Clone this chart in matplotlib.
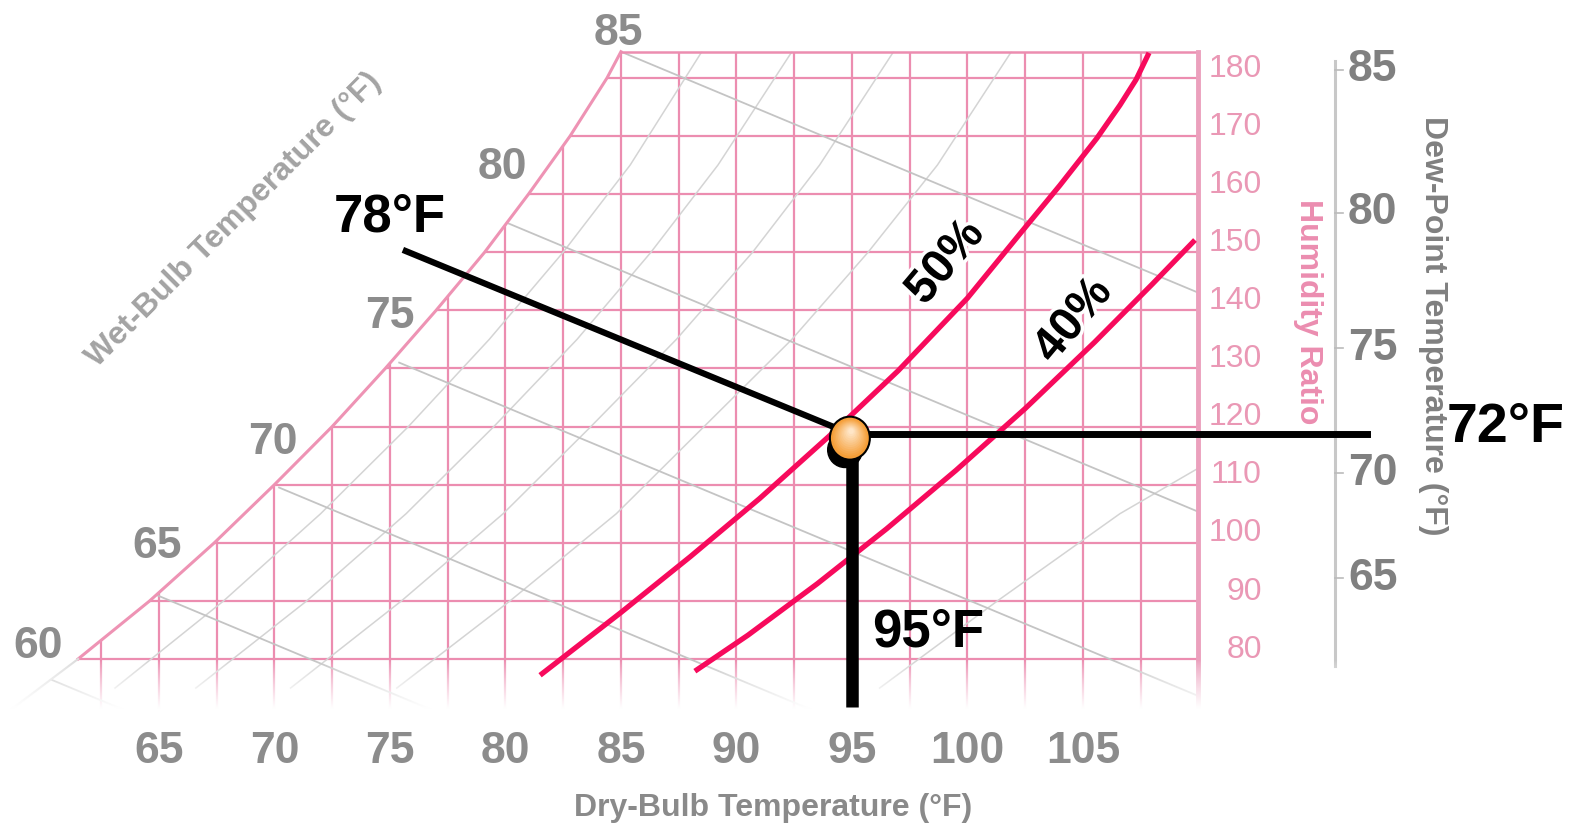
import numpy as np
import matplotlib.pyplot as plt
from matplotlib.patches import Polygon, Ellipse
import matplotlib.patheffects as pe

plt.rcParams['font.family'] = ['Liberation Sans', 'DejaVu Sans']

# --- chart scales (dry-bulb in F, humidity ratio in grains/lb) ---
db_ticks = [65, 70, 75, 80, 85, 90, 95, 100, 105]
db_grid = [62.5, 65, 67.5, 70, 72.5, 75, 77.5, 80, 82.5, 85, 87.5, 90,
           92.5, 95, 97.5, 100, 102.5, 105, 107.5]
hr_ticks = [80, 90, 100, 110, 120, 130, 140, 150, 160, 170, 180]
hr_top = 184.5
db_right = 110

# saturation curve
sat_db = [58.5, 59.5, 60.5, 61.5, 64.6, 67.4, 70.0, 72.5, 74.8, 77.0, 79.1, 81.0, 82.8, 84.4, 85.0]
sat_hr = [71, 74, 77, 80, 90, 100, 110, 120, 130, 140, 150, 160, 170, 180, 184.5]

# wet-bulb scale
wb_labels = [60, 65, 70, 75, 80, 85]
wb_label_db = [59.76, 64.91, 69.94, 75.0, 79.85, 84.9]
wb_label_hr = [82.2, 99.3, 117.2, 138.9, 164.5, 187.6]
wb_start_db = [60.0, 64.9, 70.2, 75.4, 80.1, 85.0]
wb_start_hr = [77.0, 91.0, 109.5, 131.0, 155.0, 184.5]
wb_end_db = [74.0, 79.0, 94.0, 112.0, 112.0, 112.0]
wb_end_hr = [53.8, 67.6, 70.0, 70.3, 102.0, 139.7]

# dew-point scale
dp_labels = [85, 80, 75, 70, 65]
dp_hr = [181.4, 156.8, 133.5, 112.0, 93.9]

# faint relative humidity curves
rh_grey_hr = [75, 90, 105, 120, 135, 150, 165, 184.5]
rh90_db = [63.1, 67.8, 72.0, 75.8, 79.3, 82.5, 85.4, 88.5]
rh80_db = [66.6, 71.4, 75.7, 79.5, 83.1, 86.3, 89.2, 92.4]
rh70_db = [70.7, 75.5, 79.9, 83.7, 87.4, 90.7, 93.6, 96.8]
rh60_db = [75.3, 80.2, 84.8, 88.6, 92.4, 95.7, 98.7, 101.9]
rh30_db = [96.2, 101.3, 106.6, 110.5]
rh30_hr = [75, 90, 105, 114]

# highlighted 50% and 40% curves
rh50_db = [81.5, 85.0, 88.0, 91.0, 94.0, 97.0, 100.0, 102.3, 104.0, 105.6, 106.6, 107.3, 107.86]
rh50_hr = [77.2, 88.0, 97.6, 107.6, 118.3, 129.6, 142.1, 153.3, 161.5, 169.6, 175.3, 179.7, 184.3]
rh40_db = [88.2, 90.5, 93.5, 96.5, 99.5, 102.5, 105.5, 108.0, 109.85]
rh40_hr = [77.9, 84.1, 92.95, 102.4, 112.45, 123.1, 134.5, 144.5, 152.1]

# state point: 95F dry bulb, 78F wet bulb, 72F dew point
state_db, state_hr = 94.91, 118.0
dew_hr = 118.8
wb78_db = [75.56, 94.9]
wb78_hr = [150.4, 118.8]

pink = '#ec8db0'
grey_txt = '#8c8c8c'

fig = plt.figure(figsize=(15.87, 8.25), dpi=100)
ax = fig.add_axes([0, 0, 1, 1])
ax.set_axis_off()

# clip region right of the saturation curve
verts = list(zip(sat_db, sat_hr)) + [(db_right, hr_top), (db_right, 68), (sat_db[0], 68)]
clip = Polygon(verts, closed=True, facecolor='none', edgecolor='none')
ax.add_patch(clip)

v = ax.vlines(db_grid, 68, hr_top, color=pink, lw=1.6, zorder=1)
h = ax.hlines(hr_ticks, 55, db_right, color=pink, lw=1.6, zorder=1)
v.set_clip_path(clip)
h.set_clip_path(clip)

for rdb in [rh90_db, rh80_db, rh70_db, rh60_db]:
    l, = ax.plot(rdb, rh_grey_hr, color='#d4d4d4', lw=1.1, zorder=2)
    l.set_clip_path(clip)
l, = ax.plot(rh30_db, rh30_hr, color='#d4d4d4', lw=1.1, zorder=2)
l.set_clip_path(clip)

for i in range(len(wb_labels)):
    l, = ax.plot([wb_start_db[i], wb_end_db[i]], [wb_start_hr[i], wb_end_hr[i]],
                 color='#c4c4c4', lw=1.3, zorder=2)
    l.set_clip_path(clip)

# saturation line, borders
ax.plot(sat_db[3:], sat_hr[3:], color='#ee93b4', lw=2.2, zorder=2.5)
ax.plot(sat_db[:4], sat_hr[:4], color='#dcdcdc', lw=1.5, zorder=2.5)
ax.plot([sat_db[-1], db_right], [hr_top, hr_top], color=pink, lw=1.8, zorder=2.5)
ax.plot([db_right, db_right], [68, hr_top], color='#eba0bd', lw=3.5, zorder=2.5)

# white fade at the bottom of the grid
fade_hr = np.linspace(79.7, 65.0, 120)
fade = np.ones((120, 1, 4))
fade[:, 0, 3] = np.clip((79.7 - fade_hr) / (79.7 - 71.5), 0, 1) ** 0.8
ax.imshow(fade, extent=[55, 128, 65.0, 79.7], aspect='auto', zorder=3,
          interpolation='bilinear')

# highlighted RH curves
ax.plot(rh50_db, rh50_hr, color='#f70a5c', lw=3.8, zorder=5, solid_capstyle='butt')
ax.plot(rh40_db, rh40_hr, color='#f70a5c', lw=3.8, zorder=5, solid_capstyle='butt')

halo = [pe.withStroke(linewidth=5, foreground='white')]
ax.text(99.07, 148.2, '50%', fontsize=34, fontweight='bold', rotation=50,
        ha='center', va='center', zorder=8, path_effects=halo)
ax.text(104.6, 138.2, '40%', fontsize=34, fontweight='bold', rotation=50,
        ha='center', va='center', zorder=8, path_effects=halo)

# construction lines
ax.plot(wb78_db, wb78_hr, color='black', lw=4.5, zorder=6, solid_capstyle='butt')
ax.plot([state_db, 117.3], [dew_hr, dew_hr], color='black', lw=5, zorder=6)
ax.plot([95.0, 95.0], [71.7, state_hr - 2], color='black', lw=9, zorder=6,
        solid_capstyle='butt')

# state point marker with shadow
ax.add_patch(Ellipse((94.7, 116.0), 1.5, 6.1, color='black', zorder=7))
outer = np.array([0.96, 0.62, 0.22])
inner = np.array([1.0, 0.90, 0.78])
ax.add_patch(Ellipse((state_db, state_hr), 1.73, 7.4, facecolor=outer,
                     edgecolor='black', lw=1.5, zorder=7.1))
for k, t in enumerate(np.linspace(0, 1, 12)[1:]):
    c = outer + (inner - outer) * t
    s = 1 - t * 0.85
    ax.add_patch(Ellipse((state_db + 0.05 * t, state_hr + 1.2 * t), 1.6 * s, 6.8 * s,
                         facecolor=c, edgecolor='none', zorder=7.2 + k * 0.01))

ax.text(75.0, 155.9, '78°F', fontsize=38, fontweight='bold', ha='center', va='center', zorder=8)
ax.text(123.3, 119.8, '72°F', fontsize=40, fontweight='bold', ha='center', va='center', zorder=8)
ax.text(98.3, 84.5, '95°F', fontsize=38, fontweight='bold', ha='center', va='center', zorder=8)

# dry-bulb axis
for d in db_ticks:
    ax.text(d, 64.0, str(d), fontsize=32, fontweight='bold', color=grey_txt,
            ha='center', va='center')
ax.text(91.6, 54.35, 'Dry-Bulb Temperature (°F)', fontsize=23, fontweight='bold',
        color='#8a8a8a', ha='center', va='center')

# wet-bulb scale
for lab, x, y in zip(wb_labels, wb_label_db, wb_label_hr):
    ax.text(x, y, str(lab), fontsize=32, fontweight='bold', color=grey_txt,
            ha='center', va='center')
ax.text(68.25, 155.6, 'Wet-Bulb Temperature (°F)', fontsize=23, fontweight='bold',
        color='#a3a3a3', ha='center', va='center', rotation=45)

# humidity ratio scale
for hv in hr_ticks:
    ax.text(112.75, hv + 1.6, str(hv), fontsize=23, color='#ea98b5',
            ha='right', va='center')
ax.text(114.75, 139.7, 'Humidity Ratio', fontsize=23, fontweight='bold',
        color='#eb8db0', ha='center', va='center', rotation=-90)

# dew-point scale
ax.plot([115.9, 115.9], [78.8, 182.9], color='#c8c8c8', lw=2.2)
for lab, y in zip(dp_labels, dp_hr):
    ax.plot([115.9, 116.25], [y, y], color='#bbbbbb', lw=1.2)
    ax.text(117.55, y, str(lab), fontsize=32, fontweight='bold', color='#808080',
            ha='center', va='center')
ax.text(120.15, 137.3, 'Dew-Point Temperature (°F)', fontsize=23, fontweight='bold',
        color='#808080', ha='center', va='center', rotation=-90)

ax.set_xlim(58.12, 126.82)
ax.set_ylim(51.43, 193.4)

fig.savefig('out.png', dpi=100)
